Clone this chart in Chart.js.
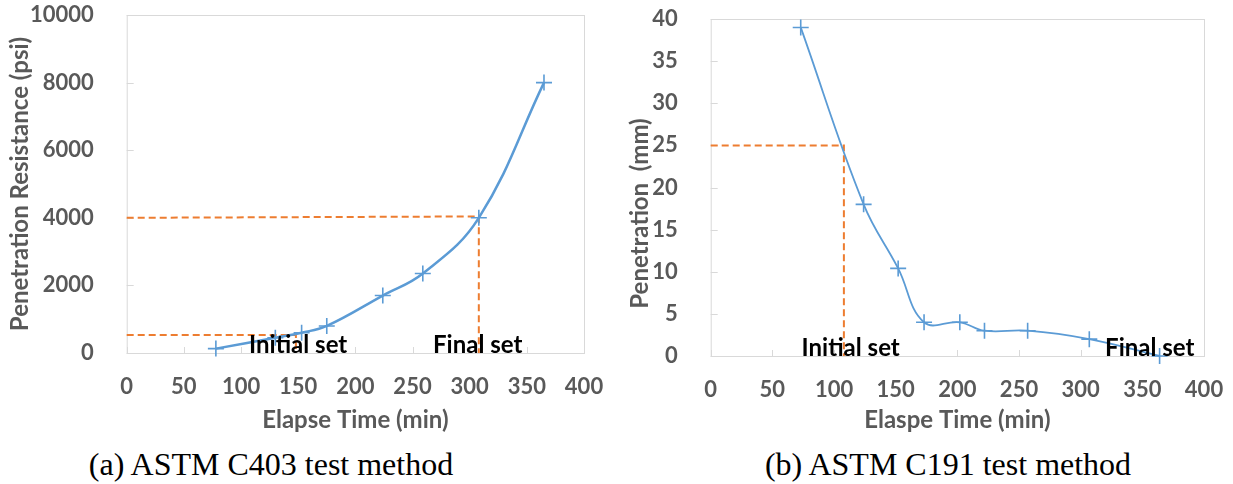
<!DOCTYPE html>
<html>
<head>
<meta charset="utf-8">
<script src="https://cdn.jsdelivr.net/npm/chart.js@4.4.0/dist/chart.umd.min.js"></script>
<style>
body { margin: 0; background: #fff; width: 1233px; height: 484px; overflow: hidden; position: relative; }
.box { position: absolute; top: 0; height: 435px; }
#boxA { left: 0; width: 610px; }
#boxB { left: 620px; width: 613px; }
.cap { position: absolute; top: 448px; transform: translateX(-50%); font-family: "Liberation Serif", "Times New Roman", serif; font-size: 32px; line-height: 1; color: #000; white-space: nowrap; }
</style>
</head>
<body>
<div class="box" id="boxA"><canvas id="chartA"></canvas></div>
<div class="box" id="boxB"><canvas id="chartB"></canvas></div>
<div class="cap" style="left:271px">(a) ASTM C403 test method</div>
<div class="cap" style="left:948px">(b) ASTM C191 test method</div>
<script>
// shared x axis (minutes)
const timeTicks = [0, 50, 100, 150, 200, 250, 300, 350, 400];

// (a) ASTM C403 - penetration resistance
const c403Time = [78, 130, 153, 175, 224, 259, 308, 365];
const c403Resistance = [130, 450, 600, 800, 1700, 2350, 4000, 8000];
const c403Ticks = [0, 2000, 4000, 6000, 8000, 10000];
const c403InitialTime = [0, 148, 148];
const c403InitialValue = [530, 530, 0];
const c403FinalTime = [0, 308, 308];
const c403FinalValue = [4000, 4040, 0];
const c403Notes = ['Initial set', 'Final set'];
const c403NoteTime = [150, 307];

// (b) ASTM C191 - penetration depth
const c191Time = [73, 124, 152, 173, 202, 222, 257, 307, 364];
const c191Penetration = [39, 18, 10.4, 4, 4, 3, 3, 2, 0];
const c191Ticks = [0, 5, 10, 15, 20, 25, 30, 35, 40];
const c191InitialTime = [0, 108, 108];
const c191InitialValue = [25, 25, 0];
const c191Notes = ['Initial set', 'Final set'];
const c191NoteTime = [113.5, 356];

const BLUE = '#5B9BD5';
const ORANGE = '#ED7D31';
const GREY = '#595959';
const FRAME = '#d9d9d9';

Chart.defaults.font.family = 'Lato, "Open Sans", sans-serif';
Chart.defaults.animation = false;

function toPoints(xs, ys) {
    return xs.map((x, i) => ({ x, y: ys[i] }));
}

// tick padding would otherwise be added to the plot margins
function noEdgePadding(s) {
    s.paddingTop = 0;
    s.paddingBottom = 0;
    s.paddingLeft = 0;
    s.paddingRight = 0;
}

// frame round the plot area, short inside tick marks, set labels and y title
const excelFrame = {
    id: 'excelFrame',
    beforeDatasetsDraw(chart) {
        const { ctx, chartArea: a, scales: { x, y } } = chart;
        ctx.save();
        ctx.strokeStyle = FRAME;
        ctx.lineWidth = 1;
        ctx.strokeRect(a.left + 0.5, a.top + 0.5, a.width, a.height);
        ctx.beginPath();
        x.ticks.forEach(t => {
            const px = Math.round(x.getPixelForValue(t.value)) + 0.5;
            ctx.moveTo(px, a.bottom);
            ctx.lineTo(px, a.bottom - 6);
        });
        y.ticks.forEach(t => {
            const py = Math.round(y.getPixelForValue(t.value)) + 0.5;
            ctx.moveTo(a.left, py);
            ctx.lineTo(a.left + 7, py);
        });
        ctx.stroke();
        ctx.restore();
    },
    afterDatasetsDraw(chart, args, opts) {
        const { ctx, chartArea: a, scales: { x, y } } = chart;
        ctx.save();
        ctx.fillStyle = '#000';
        ctx.font = 'bold 24px Lato, "Open Sans", sans-serif';
        ctx.textAlign = 'center';
        ctx.textBaseline = 'alphabetic';
        (opts.texts || []).forEach((txt, i) => {
            ctx.fillText(txt, x.getPixelForValue(opts.at[i]), y.getPixelForValue(0));
        });
        // y axis title, Excel places it a bit off the plot centre sometimes
        ctx.fillStyle = GREY;
        ctx.textBaseline = 'middle';
        ctx.translate(opts.yTitleX, (a.top + a.bottom) / 2 + opts.yTitleShift);
        ctx.rotate(-Math.PI / 2);
        ctx.fillText(opts.yTitle, 0, 0);
        ctx.restore();
    }
};

function makeChart(id, cfg) {
    const datasets = [{
        data: toPoints(cfg.xs, cfg.ys),
        borderColor: BLUE,
        borderWidth: cfg.lineWidth,
        tension: 0.4,
        pointStyle: 'cross',
        pointRadius: 8,
        pointBorderWidth: 1.6,
        pointBorderColor: BLUE,
        clip: false
    }];
    cfg.guides.forEach(g => {
        datasets.push({
            data: toPoints(g[0], g[1]),
            borderColor: ORANGE,
            borderWidth: 2,
            borderDash: [7, 4],
            pointRadius: 0,
            tension: 0,
            clip: false
        });
    });

    return new Chart(document.getElementById(id), {
        type: 'line',
        data: { datasets },
        plugins: [excelFrame],
        options: {
            responsive: true,
            maintainAspectRatio: false,
            layout: { padding: cfg.padding, autoPadding: false },
            plugins: {
                legend: { display: false },
                tooltip: { enabled: false },
                excelFrame: {
                    texts: cfg.notes,
                    at: cfg.noteAt,
                    yTitle: cfg.yTitle,
                    yTitleX: 20,
                    yTitleShift: cfg.yTitleShift
                }
            },
            scales: {
                x: {
                    type: 'linear',
                    min: timeTicks[0],
                    max: timeTicks[timeTicks.length - 1],
                    grid: { display: false },
                    border: { display: false },
                    ticks: {
                        stepSize: timeTicks[1] - timeTicks[0],
                        autoSkip: false,
                        maxRotation: 0,
                        padding: 13,
                        color: GREY,
                        font: { size: 22, weight: 'bold' },
                        callback: v => String(v)
                    },
                    title: {
                        display: true,
                        text: cfg.xTitle,
                        color: GREY,
                        font: { size: 24, weight: 'bold' },
                        padding: { top: 0, bottom: 0 }
                    },
                    afterFit: s => { s.height = cfg.xHeight; noEdgePadding(s); }
                },
                y: {
                    min: cfg.yTicks[0],
                    max: cfg.yTicks[cfg.yTicks.length - 1],
                    grid: { display: false },
                    border: { display: false },
                    ticks: {
                        stepSize: cfg.yTicks[1] - cfg.yTicks[0],
                        padding: 25,
                        color: GREY,
                        font: { size: 22, weight: 'bold' },
                        callback: v => String(v)
                    },
                    afterFit: s => { s.width = cfg.yWidth; noEdgePadding(s); }
                }
            }
        }
    });
}

makeChart('chartA', {
    xs: c403Time,
    ys: c403Resistance,
    lineWidth: 2.5,
    guides: [[c403InitialTime, c403InitialValue], [c403FinalTime, c403FinalValue]],
    yTicks: c403Ticks,
    notes: c403Notes,
    noteAt: c403NoteTime,
    xTitle: 'Elapse Time (min)',
    yTitle: 'Penetration Resistance (psi)',
    yTitleShift: 0,
    yWidth: 126.7,
    xHeight: 82,
    padding: { top: 15, right: 26, left: 0, bottom: 0 }
});

makeChart('chartB', {
    xs: c191Time,
    ys: c191Penetration,
    lineWidth: 1.8,
    guides: [[c191InitialTime, c191InitialValue]],
    yTicks: c191Ticks,
    notes: c191Notes,
    noteAt: c191NoteTime,
    xTitle: 'Elaspe Time (min)',
    yTitle: 'Penetration  (mm)',
    yTitleShift: 26,
    yWidth: 90.7,
    xHeight: 79,
    padding: { top: 19, right: 29, left: 0, bottom: 0 }
});
</script>
</body>
</html>
